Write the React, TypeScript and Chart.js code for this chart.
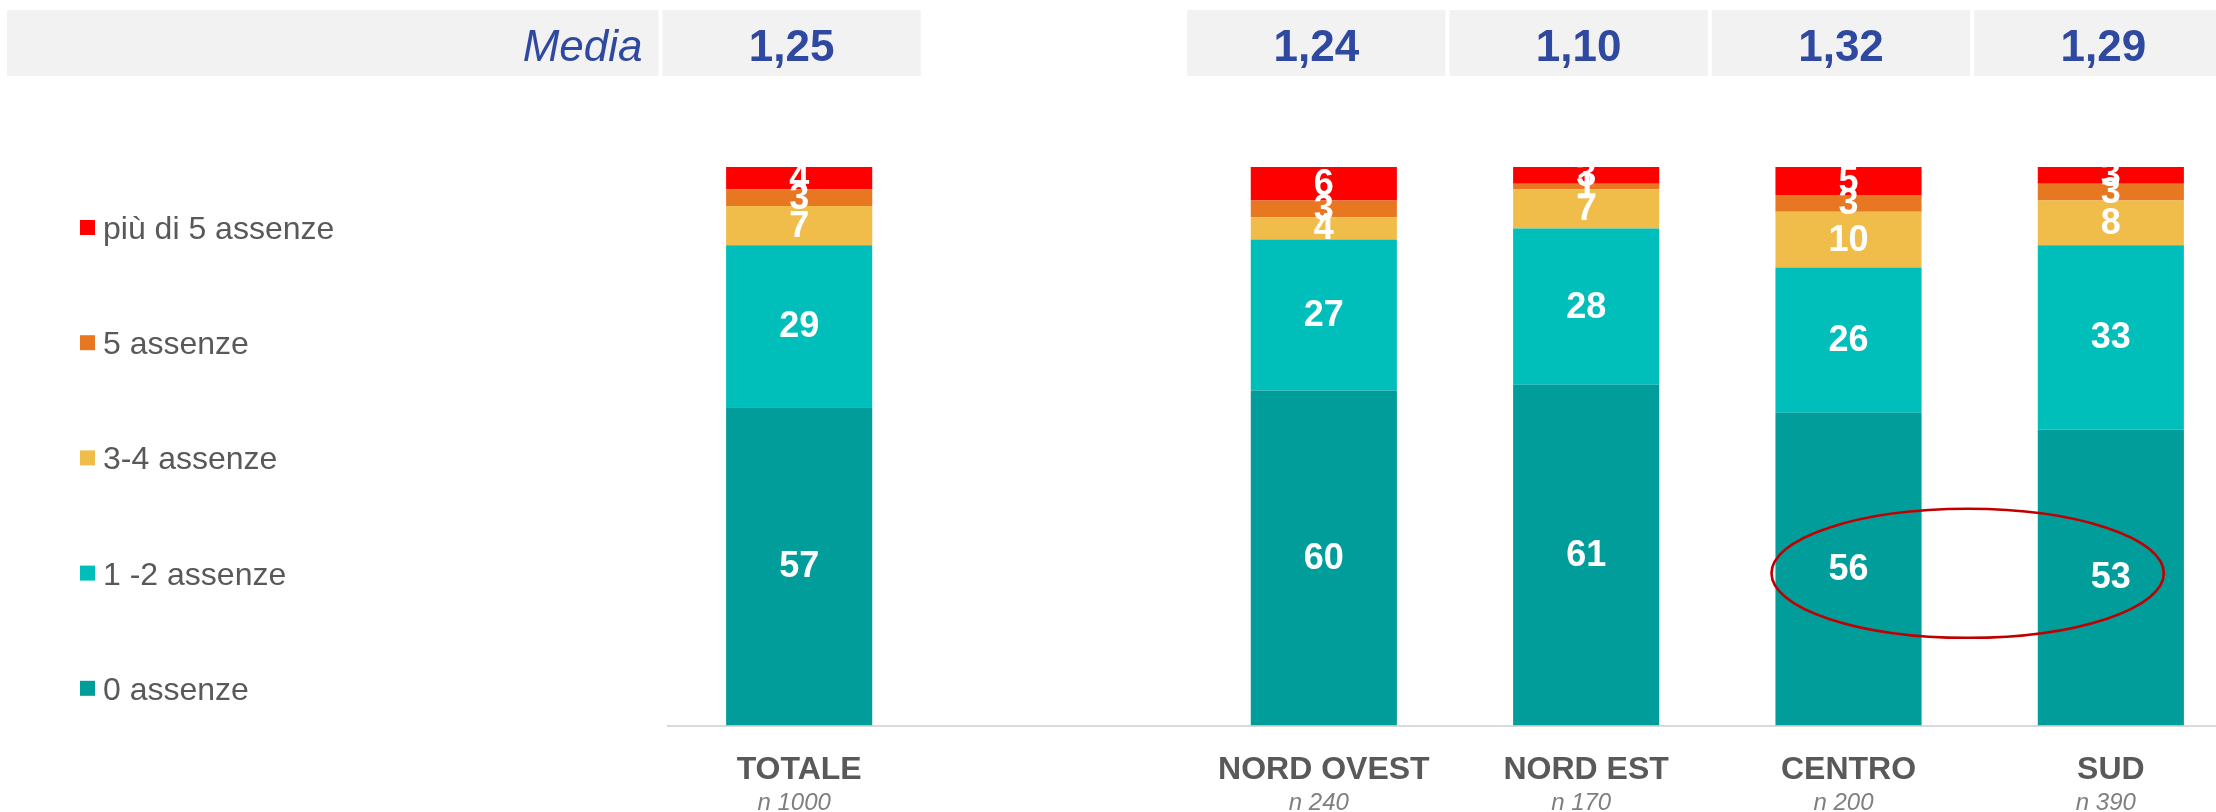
import React, { useEffect, useRef } from "react";
import { Chart, registerables } from "chart.js";

Chart.register(...registerables);

// ---------- DATA ----------
const categories = ["TOTALE", "", "NORD OVEST", "NORD EST", "CENTRO", "SUD"];
const sampleSizes: (number | null)[] = [1000, null, 240, 170, 200, 390];
const means: (number | null)[] = [1.25, null, 1.24, 1.1, 1.32, 1.29];
const meanTitle = "Media";

const zeroAbsences: (number | null)[] = [57, null, 60, 61, 56, 53];
const oneTwoAbsences: (number | null)[] = [29, null, 27, 28, 26, 33];
const threeFourAbsences: (number | null)[] = [7, null, 4, 7, 10, 8];
const fiveAbsences: (number | null)[] = [3, null, 3, 1, 3, 3];
const moreThanFiveAbsences: (number | null)[] = [4, null, 6, 3, 5, 3];

const seriesLabels = ["0 assenze", "1 -2 assenze", "3-4 assenze", "5 assenze", "più di 5 assenze"];
const seriesColors = ["#009D9A", "#00BFBB", "#F0BD4A", "#E87722", "#FF0000"];

const highlightedCategories = ["CENTRO", "SUD"];

// ---------- STYLE ----------
const FONT = "'Liberation Sans', Arial, Helvetica, sans-serif";
const BLUE = "#2F49A0";
const GRAY_TEXT = "#595959";

const headerPlugin = {
  id: "headerPlugin",
  beforeDraw(chart: any) {
    const ctx = chart.ctx;
    const x = chart.scales.x;
    const slot = x.getPixelForValue(1) - x.getPixelForValue(0);
    const top = 10;
    const h = 66;
    const w = slot - 4;
    ctx.save();
    ctx.fillStyle = "#F2F2F2";
    let firstLeft: number | null = null;
    means.forEach((m, i) => {
      if (m == null) return;
      const c = x.getPixelForValue(i) - 7.5;
      ctx.fillRect(c - w / 2, top, w, h);
      if (firstLeft === null) firstLeft = c - w / 2;
    });
    const left0 = 7;
    const right0 = (firstLeft as number) - 4;
    ctx.fillRect(left0, top, right0 - left0, h);

    ctx.fillStyle = BLUE;
    ctx.textBaseline = "alphabetic";
    ctx.font = `italic 44px ${FONT}`;
    ctx.textAlign = "right";
    ctx.fillText(meanTitle, right0 - 16, 61);

    ctx.font = `bold 44px ${FONT}`;
    ctx.textAlign = "center";
    means.forEach((m, i) => {
      if (m == null) return;
      const c = x.getPixelForValue(i) - 7.5;
      ctx.fillText(m.toFixed(2).replace(".", ","), c, 61);
    });
    ctx.restore();
  },
};

const legendPlugin = {
  id: "customLegend",
  afterDraw(chart: any) {
    const ctx = chart.ctx;
    const ds = chart.data.datasets;
    ctx.save();
    ctx.font = `32px ${FONT}`;
    ctx.textAlign = "left";
    ctx.textBaseline = "alphabetic";
    const startY = 220;
    const step = 115.2;
    for (let k = 0; k < ds.length; k++) {
      const d = ds[ds.length - 1 - k];
      const y = startY + k * step;
      ctx.fillStyle = d.backgroundColor;
      ctx.fillRect(80, y, 15, 15);
      ctx.fillStyle = GRAY_TEXT;
      ctx.fillText(d.label, 103, y + 19);
    }
    ctx.restore();
  },
};

const valueLabelPlugin = {
  id: "valueLabels",
  afterDatasetsDraw(chart: any) {
    const ctx = chart.ctx;
    ctx.save();
    ctx.font = `bold 36px ${FONT}`;
    ctx.textAlign = "center";
    ctx.textBaseline = "middle";
    ctx.fillStyle = "#FFFFFF";
    chart.data.datasets.forEach((d: any, di: number) => {
      const meta = chart.getDatasetMeta(di);
      meta.data.forEach((el: any, i: number) => {
        const v = d.data[i];
        if (v == null) return;
        const cy = (el.y + el.base) / 2;
        ctx.fillText(String(v), el.x, cy + 1);
      });
    });
    ctx.restore();
  },
};

const sampleSizePlugin = {
  id: "sampleSizes",
  afterDraw(chart: any) {
    const ctx = chart.ctx;
    const x = chart.scales.x;
    ctx.save();
    ctx.font = `italic 24px ${FONT}`;
    ctx.textAlign = "center";
    ctx.textBaseline = "middle";
    ctx.fillStyle = "#7F7F7F";
    sampleSizes.forEach((n, i) => {
      if (n == null) return;
      ctx.fillText(`n ${n}`, x.getPixelForValue(i) - 5, 803);
    });
    ctx.restore();
  },
};

const highlightPlugin = {
  id: "highlightEllipse",
  afterDraw(chart: any) {
    const ctx = chart.ctx;
    const meta = chart.getDatasetMeta(0);
    const idx = highlightedCategories.map((c) => categories.indexOf(c));
    const els = idx.map((i) => meta.data[i]);
    const cx = (els[0].x + els[1].x) / 2 - 12;
    const cy = els.reduce((s: number, e: any) => s + (e.y + e.base) / 2, 0) / els.length;
    const rx = (els[1].x - els[0].x) / 2 + 65;
    const ry = 64.5;
    ctx.save();
    ctx.strokeStyle = "#C00000";
    ctx.lineWidth = 2.6;
    ctx.beginPath();
    ctx.ellipse(cx, cy, rx, ry, 0, 0, Math.PI * 2);
    ctx.stroke();
    ctx.restore();
  },
};

export default function App() {
  const canvasRef = useRef<HTMLCanvasElement | null>(null);

  useEffect(() => {
    if (!canvasRef.current) return;
    const seriesData = [zeroAbsences, oneTwoAbsences, threeFourAbsences, fiveAbsences, moreThanFiveAbsences];
    const chart = new Chart(canvasRef.current, {
      type: "bar",
      data: {
        labels: categories,
        datasets: seriesData.map((data, i) => ({
          label: seriesLabels[i],
          data,
          backgroundColor: seriesColors[i],
          borderWidth: 0,
          barPercentage: 0.557,
          categoryPercentage: 1,
        })),
      },
      options: {
        responsive: false,
        animation: false,
        devicePixelRatio: 1,
        layout: { padding: { left: 668, top: 167, right: 8, bottom: 0 } },
        plugins: {
          legend: { display: false },
          tooltip: { enabled: false },
        },
        scales: {
          x: {
            stacked: true,
            offset: true,
            grid: { display: false },
            border: { display: true, color: "#D9D9D9", width: 2 },
            ticks: {
              autoSkip: false,
              maxRotation: 0,
              padding: 17,
              color: GRAY_TEXT,
              font: { family: FONT, size: 32, weight: "bold" },
            },
            afterFit: (scale: any) => {
              scale.height = 86.5;
            },
          },
          y: {
            stacked: true,
            display: false,
            min: 0,
            max: 100,
          },
        },
      } as any,
      plugins: [headerPlugin, valueLabelPlugin, legendPlugin, sampleSizePlugin, highlightPlugin],
    });
    return () => chart.destroy();
  }, []);

  return (
    <div
      style={{
        position: "absolute",
        left: 0,
        top: 0,
        width: 2216,
        height: 812,
        overflow: "hidden",
        background: "#FFFFFF",
      }}
    >
      <canvas ref={canvasRef} width={2250} height={812} style={{ width: 2250, height: 812, display: "block" }} />
    </div>
  );
}
